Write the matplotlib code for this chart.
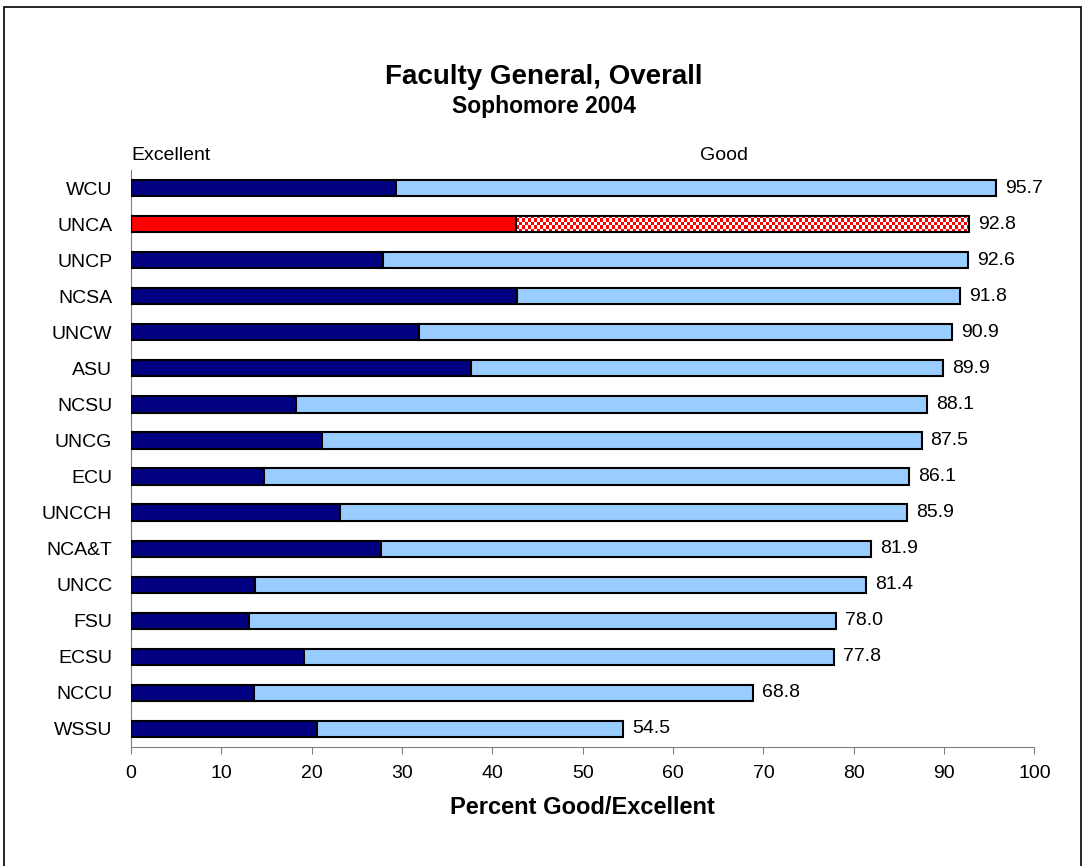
import numpy as np
import matplotlib.pyplot as plt
from matplotlib.patches import Rectangle

plt.rcParams['font.family'] = ['Liberation Sans', 'DejaVu Sans']

# data
schools = ['WCU', 'UNCA', 'UNCP', 'NCSA', 'UNCW', 'ASU', 'NCSU', 'UNCG',
           'ECU', 'UNCCH', 'NCA&T', 'UNCC', 'FSU', 'ECSU', 'NCCU', 'WSSU']
excellent = [29.3, 42.6, 27.9, 42.7, 31.9, 37.6, 18.3, 21.1,
             14.7, 23.1, 27.7, 13.7, 13.1, 19.2, 13.6, 20.6]
total = [95.7, 92.8, 92.6, 91.8, 90.9, 89.9, 88.1, 87.5,
         86.1, 85.9, 81.9, 81.4, 78.0, 77.8, 68.8, 54.5]
highlight = 'UNCA'

excellent = np.array(excellent)
total = np.array(total)
good = total - excellent
y = np.arange(len(schools))[::-1]

fig = plt.figure(figsize=(10.88, 8.66), dpi=100)
ax = fig.add_axes([0.1204, 0.1374, 0.8304, 0.6663])

h = 0.45
for i, s in enumerate(schools):
    if s == highlight:
        ax.barh(y[i], excellent[i], height=h, color='#ff0000', edgecolor='black', lw=1.5, zorder=3)
        # checkered red/white fill for the "good" part
        bar = ax.barh(y[i], good[i], left=excellent[i], height=h, color='none',
                      edgecolor='black', lw=1.5, zorder=4)[0]
        ncol = int(good[i] * 9.04 / 3)
        nrow = 5
        chk = (np.indices((nrow, ncol)).sum(axis=0) % 2)
        img = np.ones((nrow, ncol, 3))
        img[chk == 1] = [1, 0, 0]
        im = ax.imshow(img, extent=[excellent[i], total[i], y[i] - h / 2, y[i] + h / 2],
                       aspect='auto', interpolation='nearest', zorder=3)
        im.set_clip_path(bar)
    else:
        ax.barh(y[i], excellent[i], height=h, color='#000080', edgecolor='black', lw=1.5, zorder=3)
        ax.barh(y[i], good[i], left=excellent[i], height=h, color='#99ccff',
                edgecolor='black', lw=1.5, zorder=3)
    ax.annotate(f'{total[i]:.1f}', (total[i], y[i]), xytext=(6.5, 0),
                textcoords='offset points', va='center', ha='left', fontsize=14)

ax.set_xlim(0, 100)
ax.set_ylim(-0.5, len(schools) - 0.5)
ax.set_xticks(range(0, 101, 10))
ax.set_yticks(y)
ax.set_yticklabels(schools)
ax.tick_params(axis='y', length=0, pad=13.5, labelsize=14)
ax.tick_params(axis='x', length=5, color='#808080', pad=8, labelsize=14)
for side in ['top', 'right']:
    ax.spines[side].set_visible(False)
for side in ['left', 'bottom']:
    ax.spines[side].set_color('#808080')
ax.set_xlabel('Percent Good/Excellent', fontsize=17, fontweight='bold', labelpad=10)

fig.text(0.5, 0.911, 'Faculty General, Overall', ha='center', va='center',
         fontsize=20, fontweight='bold')
fig.text(0.5, 0.877, 'Sophomore 2004', ha='center', va='center',
         fontsize=16.5, fontweight='bold')
fig.text(0.1204, 0.821, 'Excellent', ha='left', va='center', fontsize=14)
fig.text(0.665, 0.821, 'Good', ha='center', va='center', fontsize=14)

fig.patches.append(Rectangle((0.004, -0.01), 0.99, 1.002, transform=fig.transFigure,
                             fill=False, edgecolor='black', lw=1.2))

fig.savefig('out.png', dpi=100)
